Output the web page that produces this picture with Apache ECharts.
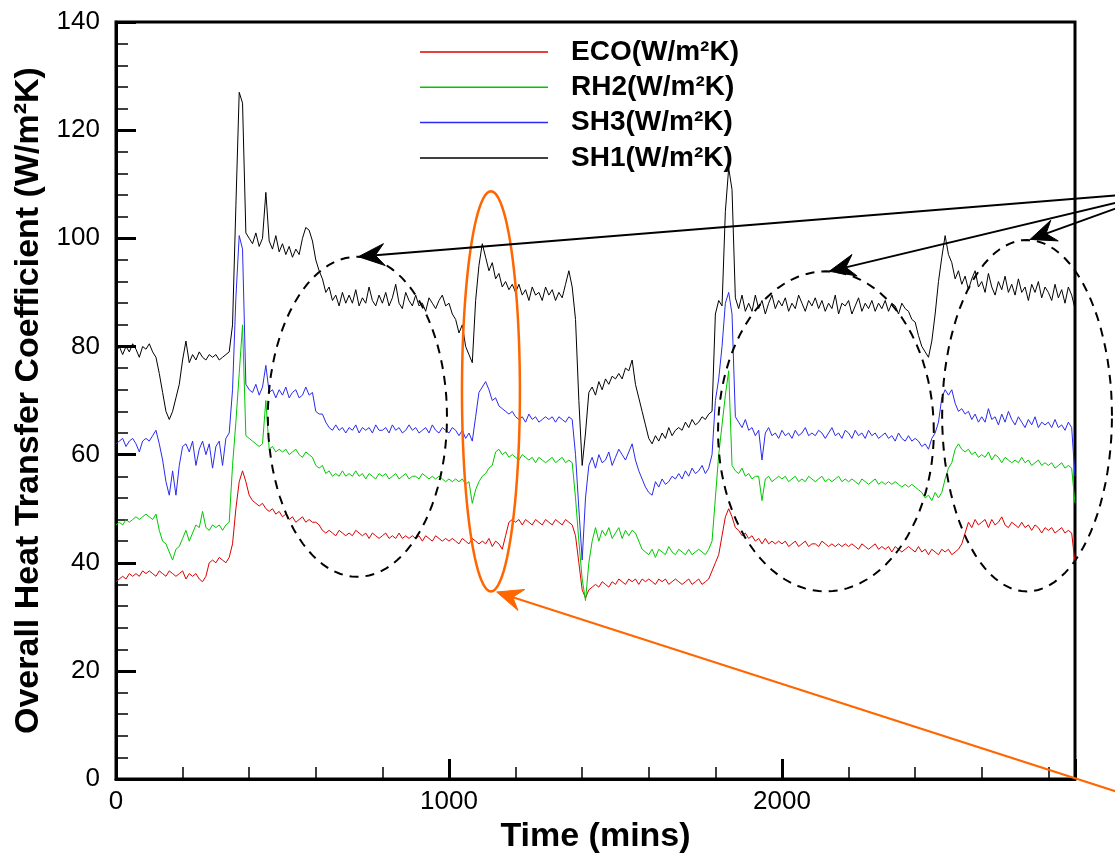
<!DOCTYPE html>
<html>
<head>
<meta charset="utf-8">
<title>Overall Heat Transfer Coefficient</title>
<script src="https://cdn.jsdelivr.net/npm/echarts@6/dist/echarts.min.js"></script>
<style>
  html, body { margin: 0; padding: 0; background: #fff; }
  #chart { width: 1115px; height: 859px; }
</style>
</head>
<body>
<div id="chart"></div>
<script>
// readings every 10 mins, 0 .. 2880
const timeStep = 10;
const xTickLabels = [0, 1000, 2000];
const seriesNames = ['ECO(W/m²K)', 'RH2(W/m²K)', 'SH3(W/m²K)', 'SH1(W/m²K)'];
const seriesColors = ['#dc0000', '#00c800', '#2a2af0', '#000000'];

const eco = [
  36.5, 37, 37.5, 37, 38, 37.5, 38, 37.5, 38.5, 38,
  38.5, 38, 37.5, 38.5, 38, 37.5, 38.5, 38, 37.5, 38,
  38.5, 37, 38, 37.5, 38, 37, 36.5, 37.5, 40, 40.5,
  40, 41, 40.5, 40, 41, 43.5, 50, 55, 57, 55,
  52.5, 51.5, 51, 50.5, 51, 50, 49.5, 50, 49, 49.5,
  48.5, 49, 48, 48.5, 47.5, 48, 48.5, 47.5, 48, 47.5,
  47.5, 47, 46, 45.5, 46, 45.5, 45, 46, 45.5, 45,
  45.5, 45, 46, 45.5, 45, 45.5, 44.5, 45.5, 45, 44.5,
  45, 45.5, 44.5, 45, 44.5, 45.5, 44.5, 45, 44.5, 45,
  44.5, 45, 44, 45, 44.5, 44, 45, 44.5, 44, 44.5,
  44, 44.5, 44, 43.5, 44.5, 44, 43.5, 44.5, 44, 43.5,
  44, 43.5, 44.5, 43, 44, 43.5, 42.5, 45, 47.5, 48,
  47.5, 48, 47, 48, 47.5, 47, 48, 47.5, 47, 48,
  47.5, 47, 48, 47.5, 47, 48, 47.5, 47, 45, 40,
  35, 33.5, 35, 35.5, 36, 35.5, 36.5, 36, 35.5, 36.5,
  36, 37, 36.5, 36, 37, 36.5, 37, 36, 37, 36.5,
  37, 36.5, 36, 37, 36.5, 37, 36, 36.5, 37, 36.5,
  36, 36.5, 37, 36, 36.5, 37, 36, 36.5, 37, 38.5,
  40, 41.5, 45, 48.5, 50, 48.5, 46.5, 46, 45, 45.5,
  44.5, 45, 44, 44.5, 43.5, 44.5, 43.5, 44, 43.5, 44,
  43.5, 44, 43, 43.5, 44, 43, 43.5, 44, 43, 43.5,
  43.5, 43, 44, 43.5, 43, 43.5, 43, 43.5, 43, 43.5,
  43, 43.5, 43, 42.5, 43.5, 43, 42.5, 43, 43.5, 42.5,
  43, 42.5, 43, 42, 43, 42.5, 42, 42.5, 43, 42.5,
  42, 43, 42, 42.5, 41.5, 42.5, 42, 41.5, 42.5, 42,
  42.5, 41.5, 42, 42.5, 43.5, 45.5, 47.5, 46.5, 48, 47,
  47.5, 48, 46.5, 48, 47, 47.5, 48.5, 47, 46.5, 47.5,
  47, 46.5, 47.5, 46.5, 47, 46, 47, 46.5, 45.5, 46.5,
  46, 46.5, 45.5, 46, 46.5, 45.5, 46, 45.5, 40
];

const rh2 = [
  47, 47.5, 47, 48, 47.5, 48, 48.5, 48, 48.5, 49,
  48.5, 48, 49, 46, 44, 43.5, 42, 40.5, 42.5, 43,
  44.5, 46, 44, 45.5, 47, 46.5, 49.5, 46.5, 46, 47,
  46.5, 47, 46, 47, 47.5, 58, 66, 75, 84, 63.5,
  63, 62.5, 62, 61.5, 62, 70, 61, 61.5, 60.5, 61,
  60.5, 61, 60, 60.5, 61, 60, 59.5, 60.5, 60, 59.5,
  58, 57.5, 58, 56.5, 57, 56, 56.5, 56, 57, 56,
  56.5, 56, 57, 56, 56.5, 55.5, 56.5, 56, 55.5, 56.5,
  56, 56.5, 55.5, 56, 56.5, 55.5, 56, 56.5, 55.5, 56,
  56, 55.5, 56.5, 56, 55.5, 56, 55.5, 56, 55.5, 55,
  55.5, 55, 55.5, 55, 55.5, 54.5, 55, 51, 53.5, 55,
  56, 56.5, 57.5, 58, 60.5, 61, 60, 60.5, 59.5, 60,
  59.5, 59, 60, 59.5, 59, 59.5, 58.5, 59.5, 59, 58.5,
  59, 59.5, 58.5, 59, 59.5, 58.5, 59, 58.5, 52, 44,
  37, 33, 40, 44, 46.5, 44, 46, 45, 46.5, 44.5,
  45.5, 46.5, 44.5, 46, 45, 46, 45.5, 44, 42.5, 42,
  41.5, 42.5, 41, 42.5, 42, 41.5, 43, 42, 41.5, 42.5,
  42, 41.5, 42.5, 41.5, 42, 42.5, 42, 41.5, 42.5, 44,
  52, 60, 65.5, 71, 75.5, 58, 57, 56.5, 57.5, 56,
  56.5, 55.5, 56, 56, 51.5, 55.5, 56, 55, 55.5, 56,
  55.5, 56, 55, 55.5, 56, 55, 55.5, 55, 56, 55.5,
  55, 55.5, 56, 55, 55.5, 55, 55.5, 56, 55, 55.5,
  55, 55.5, 55, 54.5, 55.5, 55, 54.5, 55, 55.5, 54.5,
  55, 54.5, 55, 54.5, 55, 54.5, 54, 54.5, 54, 54.5,
  54, 53.5, 53, 52, 52.5, 51.5, 53, 52, 53, 55.5,
  57.5, 58.5, 61, 62, 61, 60.5, 61, 60, 60.5, 59.5,
  60, 59.5, 60.5, 59, 60, 59.5, 58.5, 59.5, 59, 58.5,
  59, 58.5, 59.5, 58.5, 59, 58, 58.5, 59, 58, 58.5,
  58, 58.5, 57.5, 58, 58.5, 57.5, 58, 57.5, 51
];

const sh3 = [
  62, 62.5, 63, 61.5, 62.5, 63, 62, 60.5, 62.5, 63,
  62.5, 63.5, 64.5, 62, 59, 55, 52.5, 57, 52.5, 58,
  61.5, 62, 60.5, 62.5, 58, 61, 62.5, 60, 62, 57.5,
  61.5, 62.5, 58, 63, 64, 72, 89, 100.5, 98, 73,
  72, 71.5, 73, 71, 72.5, 76.5, 71.5, 72, 70.5, 72,
  71, 72.5, 70.5, 71.5, 72, 70.5, 71, 72.5, 71, 71.5,
  68, 67.5, 67.5, 66, 65, 64.5, 65.5, 64.5, 65, 64,
  65, 64.5, 65.5, 64, 65, 64.5, 65, 64, 65.5, 64.5,
  64.5, 65, 64, 65.5, 64.5, 65, 64, 64.5, 65.5, 64.5,
  65, 64, 64.5, 65, 64, 65.5, 64.5, 64, 65, 64.5,
  64, 65, 64.5, 63.5, 64.5, 63, 64, 62.5, 67, 71.5,
  72.5, 73.5, 72, 70, 70.5, 69, 68.5, 68, 67.5, 68,
  67, 66.5, 67, 66, 67.5, 66.5, 67, 66, 66.5, 67,
  66.5, 67, 66, 67, 66.5, 66, 67, 66.5, 60, 50,
  40.5, 52, 58, 59.5, 57.5, 60, 58.5, 59, 60.5, 58,
  59.5, 61, 60, 59, 60.5, 62, 59, 57, 55.5, 54,
  53, 52.5, 55, 54, 55.5, 54.5, 55, 56, 55.5, 56.5,
  55.5, 57, 56, 57.5, 56.5, 57, 58, 56.5, 57.5, 60,
  70, 74, 80, 88, 90, 86, 67, 66, 65, 66.5,
  64.5, 65, 63.5, 64.5, 59, 64, 65, 63.5, 64, 63,
  64.5, 63.5, 64, 63, 64.5, 63.5, 64, 65, 63.5, 64,
  63.5, 64.5, 64, 63, 64, 65, 63.5, 64, 63, 64.5,
  64, 63, 64.5, 63.5, 64, 63, 64.5, 63.5, 64, 63,
  63.5, 64, 63, 63.5, 62.5, 64, 63, 62.5, 63.5, 62.5,
  63, 62.5, 61.5, 62, 61, 63, 64, 66, 70.5, 72,
  71, 72, 69.5, 68, 68.5, 67.5, 68, 66.5, 67.5, 66,
  67, 66, 68.5, 66.5, 67, 65.5, 67.5, 66, 68, 66.5,
  65.5, 67, 66, 65, 66.5, 65.5, 67, 65, 66, 65.5,
  66, 65, 66.5, 65, 65.5, 64.5, 66, 65, 56
];

const sh1 = [
  79, 80, 78.5, 80, 79, 80.5, 79.5, 78, 80, 79.5,
  80.5, 79, 78, 75, 71.5, 68, 66.5, 68, 70.5, 73,
  77.5, 81, 77, 78.5, 77.5, 79, 78, 77.5, 78.5, 78,
  78.5, 77.5, 78, 78.5, 79, 84, 106, 127, 125, 101,
  100, 99, 101, 98.5, 100, 108.5, 99.5, 98, 100.5, 97.5,
  99, 97, 98.5, 96.5, 98, 97, 100, 102, 101.5, 99.5,
  96, 94, 92.5, 90, 91, 88.5, 89.5, 87.5, 90, 88,
  89.5, 88, 90.5, 87.5, 89, 88, 91, 88.5, 87.5, 89.5,
  88, 90, 87.5, 89, 91.5, 88, 87, 90, 88.5, 87.5,
  89.5, 87.5, 88, 86.5, 89, 88, 87, 88.5, 89.5, 87.5,
  88, 86, 85, 82.5, 84, 80, 78.5, 77, 88.5, 95,
  99, 96.5, 94, 95.5, 92.5, 93.5, 91, 92, 90.5, 91.5,
  90, 91.5, 89.5, 90.5, 88.5, 91, 89.5, 90, 88.5, 91,
  89.5, 90.5, 88.5, 90, 89, 91.5, 94, 91, 85, 70,
  58, 64, 71.5, 72.5, 71, 73.5, 72, 74, 73, 74.5,
  74, 75, 74, 76, 75.5, 77.5, 73, 70.5, 68, 65.5,
  63, 62, 63.5, 62.5, 64, 63, 65, 63.5, 64.5, 65,
  64.5, 66, 65, 66.5, 65.5, 66, 67, 66.5, 67.5, 68,
  86, 88.5, 87.5, 105, 113, 109, 89, 87, 89.5, 86.5,
  88, 86.5, 89.5, 87, 88.5, 86, 88, 89.5, 87, 88.5,
  87.5, 89, 86.5, 88, 87, 89.5, 88, 86.5, 88.5, 87.5,
  89, 87, 88.5, 86.5, 88, 87, 89.5, 86, 88, 87.5,
  88.5, 86, 87.5, 89, 86.5, 88, 87, 88.5, 86.5, 88,
  87, 88.5, 86.5, 88, 87.5, 86, 88, 87, 86.5, 85,
  84.5, 82, 80, 79, 78, 81, 86, 92, 96.5, 100.5,
  97, 95.5, 92.5, 94, 91.5, 93, 90.5, 92.5, 94, 91,
  92, 90, 93.5, 91, 89.5, 92, 90.5, 93, 90, 91.5,
  89.5, 92.5, 90, 91, 88.5, 91.5, 90, 92, 89, 91,
  90, 88.5, 91.5, 89, 90.5, 88, 91, 89.5, 87
];

// annotations, in data units: [centre time, centre value, half width (mins), half height]
const dashedOvals = [[725, 67.0, 269, 29.6], [2132, 64.3, 324, 29.6], [2736, 67.2, 255, 32.5]];
const orangeOval = [1126, 71.7, 87, 37];
const blackArrowFrom = [3141, 108.6];
const blackArrowTips = [[728, 96.6], [2142, 93.9], [2745, 99.8]];
const orangeArrowFrom = [3135, -4.9];
const orangeArrowTip = [1143, 34.6];

const font = 'Liberation Sans, Arial, sans-serif';
const chart = echarts.init(document.getElementById('chart'));

const toPairs = arr => arr.map((v, i) => [i * timeStep, v]);
const allSeries = [eco, rh2, sh3, sh1];

const option = {
  animation: false,
  backgroundColor: '#fff',
  grid: {
    left: 116, right: 40, top: 22, bottom: 79,
    show: true, borderColor: '#000', borderWidth: 3
  },
  legend: {
    orient: 'vertical',
    left: 420,
    top: 38,
    padding: 0,
    icon: 'rect',
    itemWidth: 128,
    itemHeight: 1.5,
    itemGap: 7.3,
    selectedMode: false,
    textStyle: {
      fontFamily: font, fontWeight: 'bold', fontSize: 28, color: '#000',
      padding: [0, 0, 0, 18]
    },
    data: seriesNames
  },
  xAxis: [
    {
      type: 'value', min: 0, max: 2880, interval: 1000,
      name: 'Time (mins)', nameLocation: 'middle', nameGap: 30,
      nameTextStyle: { fontFamily: font, fontWeight: 'bold', fontSize: 34, color: '#000' },
      axisLine: { show: true, lineStyle: { color: '#000', width: 3 } },
      axisTick: { inside: true, length: 20, lineStyle: { color: '#000', width: 3 } },
      axisLabel: {
        fontFamily: font, fontSize: 26, color: '#000', margin: 10,
        formatter: v => (xTickLabels.includes(v) ? String(v) : '')
      },
      splitLine: { show: false }
    },
    {
      // minor ticks every 200 mins
      type: 'value', min: 0, max: 2880, interval: 200, position: 'bottom',
      axisLine: { show: false },
      axisTick: { inside: true, length: 12, lineStyle: { color: '#000', width: 1.5 } },
      axisLabel: { show: false },
      splitLine: { show: false }
    }
  ],
  yAxis: {
    type: 'value', min: 0, max: 140, interval: 20,
    name: 'Overall Heat Transfer Coefficient (W/m²K)',
    nameLocation: 'middle', nameGap: 66,
    nameTextStyle: { fontFamily: font, fontWeight: 'bold', fontSize: 34, color: '#000' },
    axisLine: { show: true, lineStyle: { color: '#000', width: 3 } },
    axisTick: { inside: true, length: 20, lineStyle: { color: '#000', width: 3 } },
    minorTick: { show: true, splitNumber: 5, length: 12, lineStyle: { color: '#000', width: 1.5 } },
    axisLabel: { fontFamily: font, fontSize: 26, color: '#000', margin: 16 },
    splitLine: { show: false }
  },
  series: allSeries.map((arr, i) => ({
    name: seriesNames[i],
    type: 'line',
    xAxisIndex: 0,
    yAxisIndex: 0,
    data: toPairs(arr),
    color: seriesColors[i],
    showSymbol: false,
    symbol: 'none',
    lineStyle: { width: 1, color: seriesColors[i] },
    z: 2 + i
  }))
};

chart.setOption(option);

// annotation shapes, placed from data coordinates
function toPx(p) {
  return chart.convertToPixel({ xAxisIndex: 0, yAxisIndex: 0 }, p);
}

function ovalPoints(o) {
  const pts = [];
  for (let k = 0; k < 96; k++) {
    const a = (k / 96) * Math.PI * 2;
    pts.push(toPx([o[0] + o[2] * Math.cos(a), o[1] + o[3] * Math.sin(a)]));
  }
  return pts;
}

function arrow(from, tip, color) {
  const f = toPx(from), t = toPx(tip);
  const dx = t[0] - f[0], dy = t[1] - f[1];
  const len = Math.sqrt(dx * dx + dy * dy);
  const ux = dx / len, uy = dy / len;
  const nx = -uy, ny = ux;
  const L = 26, W = 11, N = 17;
  return [
    {
      type: 'line', z: 100, silent: true,
      shape: { x1: f[0], y1: f[1], x2: t[0] - ux * N, y2: t[1] - uy * N },
      style: { stroke: color, lineWidth: 2 }
    },
    {
      type: 'polygon', z: 100, silent: true,
      shape: {
        points: [
          t,
          [t[0] - ux * L + nx * W, t[1] - uy * L + ny * W],
          [t[0] - ux * N, t[1] - uy * N],
          [t[0] - ux * L - nx * W, t[1] - uy * L - ny * W]
        ]
      },
      style: { fill: color, stroke: color, lineWidth: 1 }
    }
  ];
}

const notes = [];
dashedOvals.forEach(o => {
  notes.push({
    type: 'polygon', z: 90, silent: true,
    shape: { points: ovalPoints(o) },
    style: { fill: 'none', stroke: '#000', lineWidth: 2, lineDash: [9, 7] }
  });
});
notes.push({
  type: 'polygon', z: 90, silent: true,
  shape: { points: ovalPoints(orangeOval) },
  style: { fill: 'none', stroke: '#ff6600', lineWidth: 2.5 }
});
blackArrowTips.forEach(tip => notes.push(...arrow(blackArrowFrom, tip, '#000')));
notes.push(...arrow(orangeArrowFrom, orangeArrowTip, '#ff6600'));

chart.setOption({ graphic: { elements: notes } });
</script>
</body>
</html>
